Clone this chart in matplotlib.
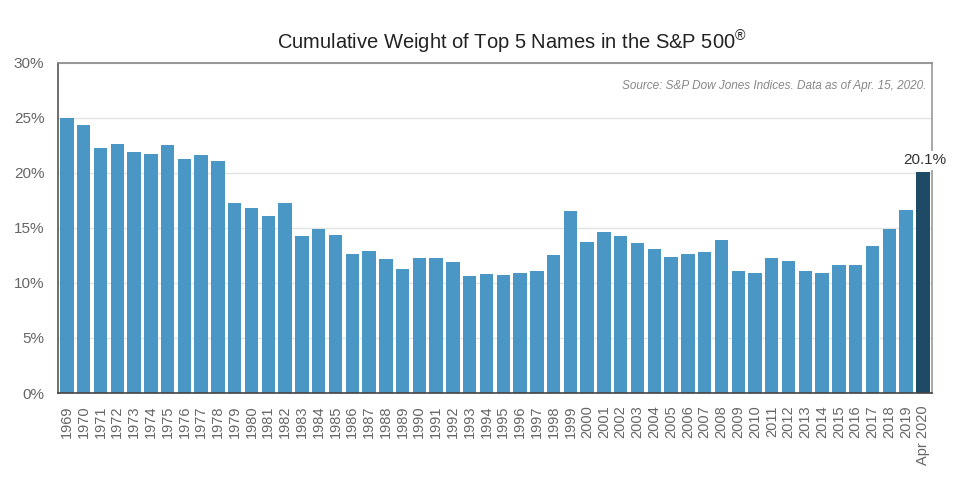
import numpy as np
import matplotlib.pyplot as plt
from matplotlib.ticker import FuncFormatter, MultipleLocator

plt.rcParams['font.family'] = ['Liberation Sans', 'DejaVu Sans']
plt.rcParams['mathtext.fontset'] = 'custom'
plt.rcParams['mathtext.rm'] = 'Liberation Sans'

years = [str(y) for y in range(1969, 2020)] + ["Apr 2020"]
weights = [25.0, 24.4, 22.3, 22.6, 21.9, 21.7, 22.5, 21.3, 21.6, 21.1,
           17.3, 16.8, 16.1, 17.3, 14.3, 14.9, 14.4, 12.6, 12.9, 12.2,
           11.3, 12.3, 12.3, 11.9, 10.6, 10.85, 10.75, 10.95, 11.05, 12.5,
           16.5, 13.7, 14.6, 14.3, 13.6, 13.1, 12.4, 12.6, 12.8, 13.9,
           11.05, 10.95, 12.3, 12.0, 11.05, 10.95, 11.65, 11.65, 13.4, 14.9,
           16.6, 20.1]

fig = plt.figure(figsize=(9.54, 4.84), dpi=100)
ax = fig.add_axes([0.061, 0.188, 0.916, 0.682])

x = np.arange(len(years))
colors = ['#4a96c4'] * (len(years) - 1) + ['#1e4a66']
ax.bar(x, weights, width=0.8, color=colors, zorder=2)

ax.set_xlim(-0.52, len(years) - 0.45)
ax.set_ylim(0, 30)
ax.yaxis.set_major_locator(MultipleLocator(5))
ax.yaxis.set_major_formatter(FuncFormatter(lambda v, p: f"{v:.0f}%"))
ax.grid(axis='y', color='#e3e3e3', linewidth=1, zorder=0)
ax.set_xticks(x)
ax.set_xticklabels(years, rotation=90)
ax.tick_params(axis='both', length=0, colors='#666666', labelsize=10.5)
ax.tick_params(axis='y', labelsize=11, pad=10)
ax.tick_params(axis='x', pad=9)

ax.spines['left'].set_color('#555555')
ax.spines['bottom'].set_color('#444444')
ax.spines['top'].set_color('#888888')
ax.spines['right'].set_color('#999999')
for s in ax.spines.values():
    s.set_linewidth(1.2)

ax.text(x[-1] + 0.1, weights[-1] + 0.4, f"{weights[-1]:.1f}%", ha='center',
        va='bottom', fontsize=11, color='#333333', zorder=3,
        bbox=dict(facecolor='white', edgecolor='none', pad=1.5))

ax.text(0.993, 0.93, "Source: S&P Dow Jones Indices. Data as of Apr. 15, 2020.",
        transform=ax.transAxes, ha='right', va='center', fontsize=8.5,
        style='italic', color='#888888')

fig.text(0.537, 0.913, r"Cumulative Weight of Top 5 Names in the S&P 500$^{\mathrm{®}}$",
         ha='center', va='center', fontsize=14.5, color='#222222')

fig.savefig("out.png", dpi=100)
